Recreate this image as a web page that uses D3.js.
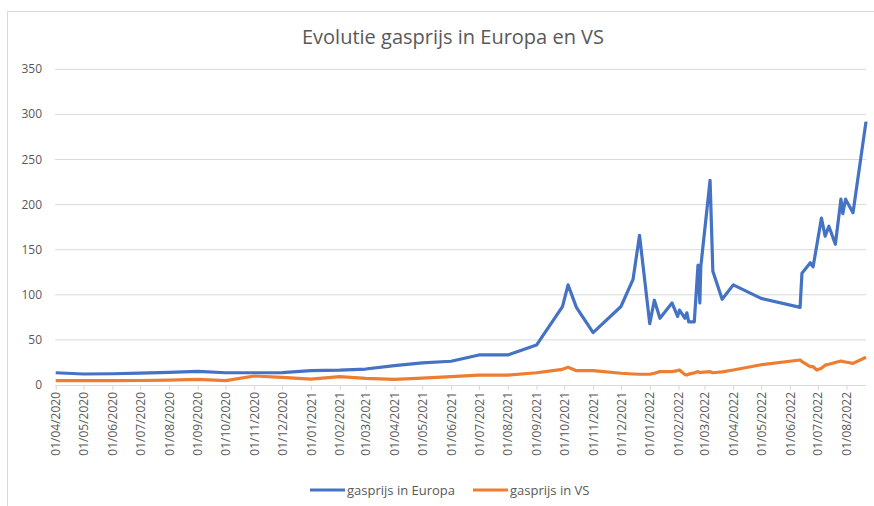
<!DOCTYPE html>
<html>
<head>
<meta charset="utf-8">
<script src="https://cdn.jsdelivr.net/npm/d3@7"></script>
<style>
    body { margin: 0; background: #fff; }
    text { font-family: "Open Sans", sans-serif; }
</style>
</head>
<body>
<span></span>
<script>
let width = 874;
let height = 506;

// data
let dates = [
    "01/04/2020", "01/05/2020", "01/06/2020", "01/07/2020", "01/08/2020", "01/09/2020",
    "01/10/2020", "01/11/2020", "01/12/2020", "01/01/2021", "01/02/2021", "01/03/2021",
    "01/04/2021", "01/05/2021", "01/06/2021", "01/07/2021", "01/08/2021", "01/09/2021",
    "29/09/2021", "05/10/2021", "14/10/2021", "01/11/2021", "01/12/2021", "14/12/2021",
    "21/12/2021", "01/01/2022", "06/01/2022", "12/01/2022", "25/01/2022", "31/01/2022",
    "02/02/2022", "08/02/2022", "10/02/2022", "12/02/2022", "18/02/2022", "22/02/2022",
    "24/02/2022", "25/02/2022", "07/03/2022", "10/03/2022", "20/03/2022", "01/04/2022",
    "01/05/2022", "12/06/2022", "14/06/2022", "23/06/2022", "26/06/2022", "30/06/2022",
    "05/07/2022", "09/07/2022", "13/07/2022", "20/07/2022", "26/07/2022", "28/07/2022",
    "31/07/2022", "08/08/2022", "22/08/2022"
];
let europa = [
    13.6, 12.2, 12.5, 13.2, 14.0, 15.0,
    13.6, 13.6, 13.8, 15.9, 16.4, 17.7,
    21.4, 24.5, 26.3, 33.3, 33.3, 44.3,
    87, 111, 86, 58, 87, 117,
    166, 68, 94, 74, 91, 76,
    83, 74, 80, 70, 70, 133,
    91, 131, 227, 126, 95, 111,
    96, 86, 124, 135.6, 131, 155,
    185, 165, 176, 156, 206, 190,
    206, 191, 292
];
let vs = [
    4.8, 4.8, 4.8, 5.0, 5.5, 6.2,
    4.8, 10.0, 8.5, 6.6, 9.2, 7.4,
    6.3, 7.6, 9.2, 11, 11, 13.6,
    17.4, 19.6, 15.9, 15.9, 13, 12.2,
    11.9, 11.9, 13, 14.8, 14.8, 16,
    16.6, 11.5, 11.1, 12, 13.5, 14.8,
    13.6, 14, 14.8, 13.6, 14.5, 16.6,
    22.5, 27.7, 26, 20.3, 20.3, 16.6,
    18.5, 22, 23, 25, 26.6, 26,
    25.5, 24, 30.7
];
let yTicks = [0, 50, 100, 150, 200, 250, 300, 350];
let seriesNames = ["gasprijs in Europa", "gasprijs in VS"];
let colors = ["#4472C4", "#ED7D31"];

let parseDate = d3.timeParse("%d/%m/%Y");
let parsed = dates.map(parseDate);

let svg = d3.select("span")
    .append("svg")
    .attr("width", width)
    .attr("height", height)
    .style("display", "block");

// chart border
svg.append("rect")
    .attr("x", 7.5)
    .attr("y", 11.5)
    .attr("width", 872)
    .attr("height", 500)
    .style("fill", "none")
    .style("stroke", "#d9d9d9");

// title
svg.append("text")
    .attr("x", 453)
    .attr("y", 44)
    .attr("text-anchor", "middle")
    .style("font-size", "20px")
    .style("fill", "#595959")
    .text("Evolutie gasprijs in Europa en VS");

let x = d3.scaleTime()
    .domain([parsed[0], parsed[parsed.length - 1]])
    .range([55.7, 866]);

let y = d3.scaleLinear()
    .domain([0, 350])
    .range([385, 69.3]);

// gridlines
svg.append("g")
    .selectAll("line")
    .data(yTicks.slice(1))
    .enter()
    .append("line")
    .attr("x1", 55)
    .attr("x2", 866)
    .attr("y1", d => y(d))
    .attr("y2", d => y(d))
    .style("stroke", "#d9d9d9")
    .style("stroke-width", 1);

// y labels
svg.append("g")
    .selectAll("text")
    .data(yTicks)
    .enter()
    .append("text")
    .attr("x", 42)
    .attr("y", d => y(d) + 4)
    .attr("text-anchor", "end")
    .style("font-size", "12px")
    .style("fill", "#595959")
    .text(d => d);

// x axis
let xAxis = svg.append("g")
    .attr("transform", "translate(0," + y(0) + ")")
    .call(d3.axisBottom(x)
        .ticks(d3.timeMonth.every(1))
        .tickFormat(d3.timeFormat("%d/%m/%Y"))
        .tickSize(5)
        .tickSizeOuter(0));

xAxis.select(".domain")
    .attr("d", "M55,0.5H866")
    .style("stroke", "#d9d9d9");
xAxis.selectAll(".tick line").style("stroke", "#d9d9d9");
xAxis.selectAll(".tick text")
    .attr("transform", "rotate(-90)")
    .attr("x", -7)
    .attr("y", 0)
    .attr("dy", "0.35em")
    .attr("text-anchor", "end")
    .style("font-family", "'Open Sans', sans-serif")
    .style("font-size", "12px")
    .style("fill", "#595959");

// lines
let line = d3.line()
    .x((d, i) => x(parsed[i]))
    .y(d => y(d));

[europa, vs].forEach(function (values, k) {
    svg.append("path")
        .attr("d", line(values))
        .style("fill", "none")
        .style("stroke", colors[k])
        .style("stroke-width", 3.2)
        .style("stroke-linejoin", "round");
});

// legend
let legendX = [310, 473];
seriesNames.forEach(function (name, k) {
    let g = svg.append("g").attr("transform", "translate(" + legendX[k] + ",490)");
    g.append("line")
        .attr("x1", 0).attr("x2", 35)
        .attr("y1", 0).attr("y2", 0)
        .style("stroke", colors[k])
        .style("stroke-width", 3.2);
    g.append("text")
        .attr("x", 37)
        .attr("y", 4.5)
        .style("font-size", "13px")
        .style("fill", "#595959")
        .text(name);
});
</script>
</body>
</html>
